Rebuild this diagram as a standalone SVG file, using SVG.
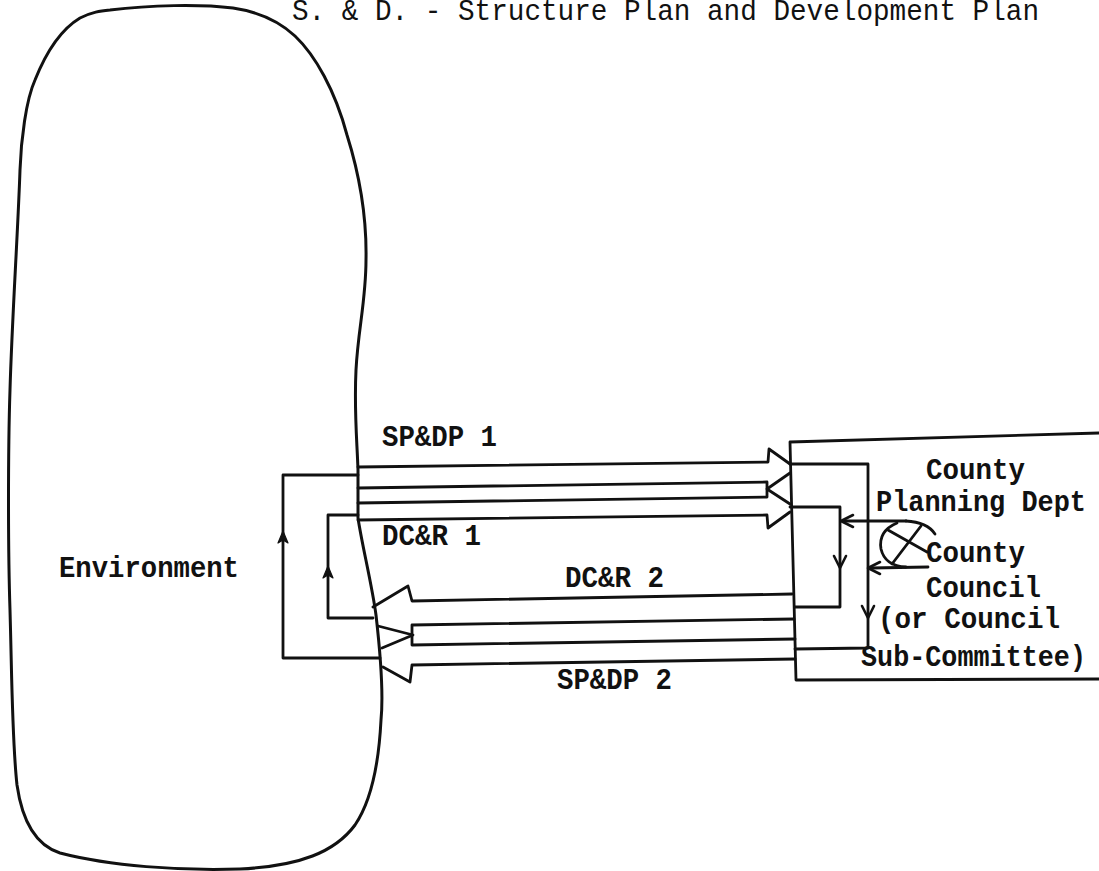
<svg xmlns="http://www.w3.org/2000/svg" xmlns:xlink="http://www.w3.org/1999/xlink" width="1099" height="871" viewBox="0 0 1099 871">
  <style>
    .ln { fill: none; stroke: #111; stroke-width: 2.8; stroke-linejoin: round; stroke-linecap: round; }
    .blob { fill: none; stroke: #111; stroke-width: 3; stroke-linejoin: round; }
    .lbl { font-family: "Liberation Mono", "DejaVu Sans Mono", monospace; font-size: 30px; font-weight: bold; fill: #111; }
    .ttl { font-family: "Liberation Mono", "DejaVu Sans Mono", monospace; font-size: 29px; fill: #111; }
  </style>
  <defs>
    <path id="chev" d="M-6,7 L0,-5 L6,7" fill="none" stroke="#111" stroke-width="2.6" stroke-linejoin="round" stroke-linecap="round"/>
    <path id="tri" d="M-5,6 L0,-6 L5,6 L0,3 Z" fill="#111" stroke="#111" stroke-width="1.2" stroke-linejoin="round"/>
  </defs>
  <rect width="1099" height="871" fill="#fff"/>

  <text class="ttl" x="292" y="20" textLength="747" lengthAdjust="spacingAndGlyphs">S. &amp; D. - Structure Plan and Development Plan</text>

  <g id="environment">
    <path class="blob" d="M 110,10 C 150,5 200,4 233,8 C 260,12 280,22 295,36 C 315,55 335,90 347,135 C 358,170 367,210 366,260 C 366,300 358,330 356,370 C 354,410 357,440 358,470 L 358,518 C 362,545 372,585 376,615 C 380,650 384,690 381,720 C 379,760 372,800 355,825 C 335,852 300,866 240,869 C 180,871 110,866 60,853 C 35,845 22,820 17,785 C 12,740 12,680 10,610 C 8,550 8,450 10,390 C 12,320 18,230 20,170 C 21,140 26,100 35,80 C 45,55 60,30 80,18 C 92,12 100,11 110,10 Z"/>
    <text class="lbl" x="59" y="577" textLength="180" lengthAdjust="spacingAndGlyphs">Environment</text>
  </g>

  <g id="county-planning">
    <path class="ln" d="M 1099,433 L 790,442 L 796,680 L 1099,679"/>
    <text class="lbl" x="926" y="479" textLength="99" lengthAdjust="spacingAndGlyphs">County</text>
    <text class="lbl" x="876" y="511" textLength="210" lengthAdjust="spacingAndGlyphs">Planning Dept</text>
    <text class="lbl" x="926" y="562" textLength="99" lengthAdjust="spacingAndGlyphs">County</text>
    <text class="lbl" x="926" y="597" textLength="115" lengthAdjust="spacingAndGlyphs">Council</text>
    <text class="lbl" x="878" y="628" textLength="182" lengthAdjust="spacingAndGlyphs">(or Council</text>
    <text class="lbl" x="861" y="666" textLength="225" lengthAdjust="spacingAndGlyphs">Sub-Committee)</text>
  </g>

  <g id="council-symbol">
    <path class="ln" d="M 906,521 Q 927,522 935,534"/>
    <path class="ln" d="M 897,523 Q 878,531 881,549 Q 885,566 906,567"/>
    <path class="ln" d="M 888,530 L 927,552 M 892,564 L 921,526"/>
  </g>

  <g id="connectors">
    <!-- SP&DP 1 and DC&R 1 (towards County Planning Dept) -->
    <path class="ln" d="M 358,467 L 768,462 L 769,449 L 790,464"/>
    <path class="ln" d="M 358,488 L 767,482 L 767,497 L 358,503"/>
    <path class="ln" d="M 790,473 L 767,489 L 790,504"/>
    <path class="ln" d="M 358,520 L 767,515 L 768,528 L 790,512"/>
    <text class="lbl" x="382" y="446" textLength="115" lengthAdjust="spacingAndGlyphs">SP&amp;DP 1</text>
    <text class="lbl" x="382" y="545" textLength="99" lengthAdjust="spacingAndGlyphs">DC&amp;R 1</text>

    <!-- DC&R 2 and SP&DP 2 (towards Environment) -->
    <path class="ln" d="M 792,594 L 412,601 L 408,586 L 373,607"/>
    <path class="ln" d="M 794,619 L 412,625 L 412,645 L 795,639"/>
    <path class="ln" d="M 378,626 L 413,635 L 382,648"/>
    <path class="ln" d="M 795,659 L 412,665 L 410,682 L 383,667"/>
    <text class="lbl" x="565" y="587" textLength="99" lengthAdjust="spacingAndGlyphs">DC&amp;R 2</text>
    <text class="lbl" x="557" y="689" textLength="115" lengthAdjust="spacingAndGlyphs">SP&amp;DP 2</text>

    <!-- Environment feedback loops -->
    <path class="ln" d="M 358,475 L 283,475 L 283,658 L 380,658"/>
    <path class="ln" d="M 358,515 L 328,515 L 328,618 L 373,618"/>
    <use xlink:href="#tri" transform="translate(283,537)"/>
    <use xlink:href="#tri" transform="translate(328,572)"/>

    <!-- County feedback loops -->
    <path class="ln" d="M 790,464 L 868,464 L 868,648 L 795,649"/>
    <path class="ln" d="M 790,507 L 840,507 L 840,607 L 795,607"/>
    <use xlink:href="#chev" transform="translate(840,563) rotate(180)"/>
    <use xlink:href="#chev" transform="translate(868,613) rotate(180)"/>

    <!-- Council links -->
    <path class="ln" d="M 906,521 L 844,521"/>
    <use xlink:href="#chev" transform="translate(846,521) rotate(-90)"/>
    <path class="ln" d="M 928,567 L 871,568"/>
    <use xlink:href="#chev" transform="translate(873,568) rotate(-90)"/>
  </g>
</svg>
